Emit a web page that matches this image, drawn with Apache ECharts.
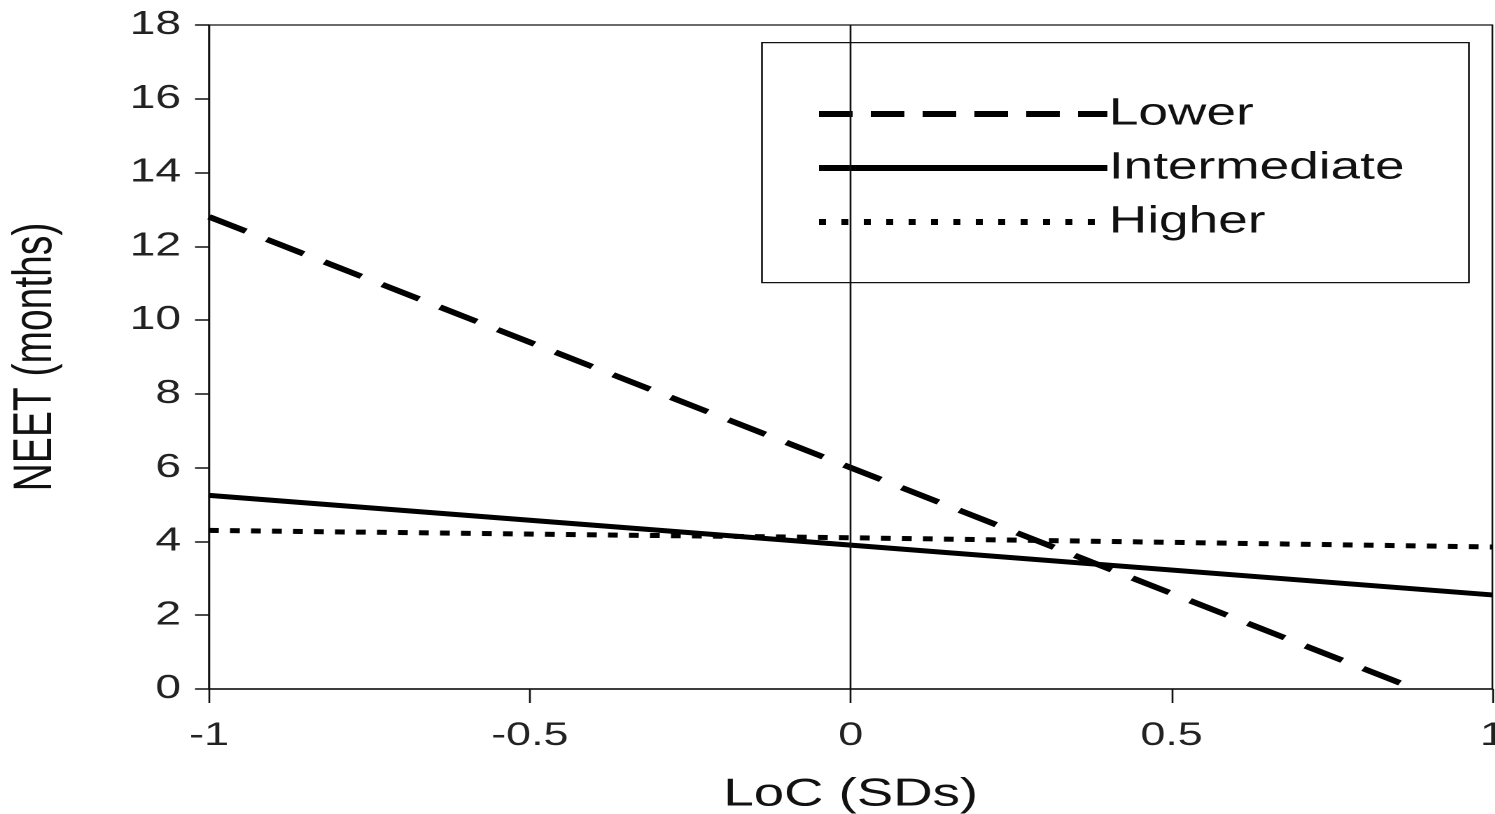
<!DOCTYPE html>
<html><head><meta charset="utf-8">
<script src="https://cdn.jsdelivr.net/npm/echarts@6/dist/echarts.min.js"></script>
<style>
html,body{margin:0;padding:0;background:#fff;overflow:hidden}
#c{width:1068px;height:814px;transform:scaleX(1.4);transform-origin:0 0}
</style>
</head><body><div id="c"></div>
<script>
const seriesNames = ['Lower', 'Intermediate', 'Higher'];
const lowerPts = [[-1, 12.8], [0, 6.0], [0.88, 0]];
const intermediatePts = [[-1, 5.25], [0, 3.9], [1, 2.55]];
const higherPts = [[-1, 4.3], [0, 4.1], [1, 3.85]];
const xTicks = [-1, -0.5, 0, 0.5, 1];
const yTicks = [0, 2, 4, 6, 8, 10, 12, 14, 16, 18];

const font = 'Liberation Sans, Arial, sans-serif';
const chart = echarts.init(document.getElementById('c'), null, { devicePixelRatio: 2 });
const lineTypes = [[30, 17], 'solid', [7, 8]];
const lineWidths = [5.5, 5, 5];
const legendTypes = [[24, 13], 'solid', [5, 11]];
const dataArr = [lowerPts, intermediatePts, higherPts];

chart.setOption({
  animation: false,
  backgroundColor: '#fff',
  grid: { left: 149.3, right: 2, top: 25, bottom: 125, outerBoundsMode: 'none', containLabel: false,
          show: true, borderColor: '#111', borderWidth: 1.3, backgroundColor: 'transparent' },
  legend: {
    orient: 'vertical', left: 577, top: 90, itemWidth: 206, itemHeight: 20, itemGap: 16,
    data: seriesNames.map((n, i) => ({ name: n, lineStyle: { type: legendTypes[i], width: 6, color: '#000' } })),
    itemStyle: { opacity: 0, color: 'rgba(0,0,0,0)', borderWidth: 0 },
    textStyle: { fontFamily: font, fontSize: 38, color: '#111', padding: [0, 0, 0, -4] },
    z: 5
  },
  graphic: [{ type: 'rect', left: 543.6, top: 42, shape: { width: 505, height: 240 }, style: { fill: '#fff', stroke: '#111', lineWidth: 1.3 }, z: 3 }],
  xAxis: {
    type: 'value', min: -1, max: 1, interval: 0.5,
    name: 'LoC (SDs)', nameLocation: 'middle', nameGap: 86,
    nameTextStyle: { fontFamily: font, fontSize: 39, color: '#111' },
    axisLine: { show: true, onZero: false, lineStyle: { color: '#111', width: 1.5 } },
    axisTick: { show: true, length: 14, lineStyle: { color: '#111', width: 1.3 } },
    axisLabel: { fontFamily: font, fontSize: 32, color: '#222', margin: 31, formatter: v => String(v) },
    splitLine: { show: false }
  },
  yAxis: {
    type: 'value', min: 0, max: 18, interval: 2,
    name: 'NEET (months)', nameLocation: 'middle', nameGap: 104, nameRotate: 90,
    nameTextStyle: { fontFamily: font, fontSize: 39, color: '#111' },
    axisLine: { show: true, onZero: false, lineStyle: { color: '#111', width: 1.3 } },
    axisTick: { show: true, length: 10, lineStyle: { color: '#111', width: 1.5 } },
    axisLabel: { fontFamily: font, fontSize: 33, color: '#222', margin: 20 },
    splitLine: { show: false }
  },
  series: seriesNames.map((n, i) => ({
    name: n, type: 'line', data: dataArr[i], showSymbol: false, symbol: 'none',
    color: '#000', clip: true, z: 2,
    lineStyle: { color: '#000', width: lineWidths[i], type: lineTypes[i] },
    markLine: i === 0 ? {
      silent: true, symbol: 'none', label: { show: false },
      lineStyle: { color: '#111', width: 1.3, type: 'solid' },
      data: [{ xAxis: 0 }]
    } : undefined
  }))
});
</script></body></html>
